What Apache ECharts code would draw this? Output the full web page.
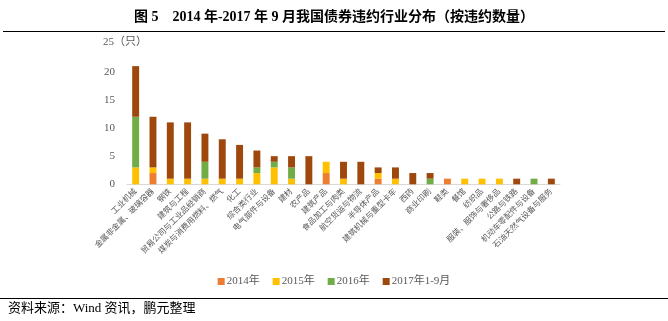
<!DOCTYPE html>
<html>
<head>
<meta charset="utf-8">
<script src="https://cdn.jsdelivr.net/npm/echarts@6/dist/echarts.min.js"></script>
<style>
html,body{margin:0;padding:0;background:#fff;}
#c{width:668px;height:321px;}
</style>
</head>
<body>
<div id="c"></div>
<script>
var categories = ['工业机械','金属非金属、玻璃容器','钢铁','建筑与工程','贸易公司与工业品经销商','煤炭与消费用燃料、燃气','化工','综合类行业','电气部件与设备','建材','农产品','建筑产品','食品加工与肉类','航空货运与物流','半导体产品','建筑机械与重型卡车','西药','商业印刷','鞋类','餐馆','纺织品','服装、服饰与奢侈品','公路与铁路','机动车零配件与设备','石油天然气设备与服务'];
var s2014 = [0,2,0,0,0,0,0,0,0,0,0,2,0,0,1,0,0,0,1,0,0,0,0,0,0];
var s2015 = [3,1,1,1,1,1,1,2,3,1,0,2,1,0,1,1,0,0,0,1,1,1,0,0,0];
var s2016 = [9,0,0,0,3,0,0,1,1,2,0,0,0,0,0,0,0,1,0,0,0,0,0,1,0];
var s2017 = [9,9,10,10,5,7,6,3,1,2,5,0,3,4,1,2,2,1,0,0,0,0,1,0,1];
var seriesNames = ['2014年','2015年','2016年','2017年1-9月'];
var yTicks = [0,5,10,15,20,25];

var colors = ['#ED7D31','#FFC000','#70AD47','#9E480E'];
var cjk = '"Liberation Serif","Noto Sans CJK SC",serif';
var chart = echarts.init(document.getElementById('c'));
var dataSets = [s2014,s2015,s2016,s2017];
chart.setOption({
  animation:false,
  color:colors,
  title:{
    text:'图 5    2014 年-2017 年 9 月我国债券违约行业分布（按违约数量）',
    left:'center', top:5,
    textStyle:{fontSize:14,fontWeight:'bold',color:'#000',fontFamily:cjk}
  },
  legend:{
    data:seriesNames, left:'center', top:271,
    itemWidth:7, itemHeight:7, itemGap:13,
    icon:'rect',
    textStyle:{fontSize:11,color:'#595959',fontFamily:cjk,padding:[0,0,0,-3]}
  },
  grid:{left:127,right:108,top:43.6,bottom:136.7,containLabel:false},
  xAxis:{
    type:'category', data:categories,
    axisLine:{lineStyle:{color:'#D9D9D9'}},
    axisTick:{show:false},
    axisLabel:{rotate:45,interval:0,fontSize:8,color:'#595959',fontFamily:cjk,margin:6}
  },
  yAxis:{
    type:'value', min:yTicks[0], max:yTicks[yTicks.length-1], interval:5,
    splitLine:{show:false},
    axisLine:{show:false}, axisTick:{show:false},
    axisLabel:{fontSize:11,color:'#595959',fontFamily:cjk,margin:12,
      formatter:function(v){return v===25?'':String(v);}}
  },
  graphic:[
    {type:'text',left:103,top:37,style:{text:'25（只）',fontSize:11,fill:'#595959',fontFamily:cjk}},
    {type:'line',shape:{x1:3,y1:31.5,x2:665,y2:31.5},style:{stroke:'#000',lineWidth:1.2}},
    {type:'line',shape:{x1:0,y1:298.5,x2:668,y2:298.5},style:{stroke:'#000',lineWidth:1.2}},
    {type:'text',left:8,top:302,style:{text:'资料来源：Wind 资讯，鹏元整理',fontSize:13,fill:'#000',fontFamily:cjk}}
  ],
  series:seriesNames.map(function(n,i){
    return {name:n,type:'bar',stack:'a',barWidth:'40%',data:dataSets[i]};
  })
});
</script>
</body>
</html>
